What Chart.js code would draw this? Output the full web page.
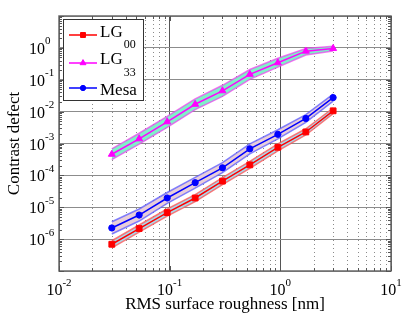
<!DOCTYPE html>
<html>
<head>
<meta charset="utf-8">
<script src="https://cdn.jsdelivr.net/npm/chart.js@4.4.1/dist/chart.umd.min.js"></script>
<style>
    html, body { margin: 0; padding: 0; background: #fff; }
</style>
</head>
<body>
<canvas id="myChart" width="415" height="331"></canvas>
<script>
// RMS surface roughness [nm]
const roughness = [0.03, 0.053, 0.095, 0.17, 0.3, 0.53, 0.95, 1.7, 3.0];

// contrast defect, centre line and shaded band for each mode
const lg00 = [6.9e-7, 2.15e-6, 6.8e-6, 1.95e-5, 6.6e-5, 2.14e-4, 7.6e-4, 2.3e-3, 1.06e-2];
const lg00Upper = [8.9e-7, 2.77e-6, 8.8e-6, 2.5e-5, 8.5e-5, 2.75e-4, 9.7e-4, 2.9e-3, 1.3e-2];
const lg00Lower = [5.35e-7, 1.67e-6, 5.3e-6, 1.5e-5, 5.1e-5, 1.66e-4, 5.9e-4, 1.85e-3, 8.6e-3];

const lg33 = [4.6e-4, 1.4e-3, 4.8e-3, 1.7e-2, 4.5e-2, 0.148, 0.34, 0.79, 0.96];
const lg33Upper = [6.8e-4, 2.1e-3, 7.1e-3, 2.5e-2, 6.7e-2, 0.21, 0.47, 0.95, 1.12];
const lg33Lower = [3.1e-4, 9.5e-4, 3.2e-3, 1.15e-2, 3.0e-2, 0.103, 0.25, 0.6, 0.8];

const mesa = [2.24e-6, 5.7e-6, 1.95e-5, 5.9e-5, 1.73e-4, 6.8e-4, 1.94e-3, 6.1e-3, 2.75e-2];
const mesaUpper = [3.5e-6, 8.8e-6, 2.9e-5, 8.7e-5, 2.5e-4, 9.7e-4, 2.7e-3, 8.1e-3, 3.55e-2];
const mesaLower = [1.45e-6, 3.7e-6, 1.32e-5, 4.0e-5, 1.21e-4, 4.75e-4, 1.4e-3, 4.6e-3, 2.13e-2];

// axes
const xMajorTicks = [0.01, 0.1, 1, 10];
const yMajorTicks = [1e-7, 1e-6, 1e-5, 1e-4, 1e-3, 1e-2, 1e-1, 1e0, 1e1];
const yLabelTicks = [1e-6, 1e-5, 1e-4, 1e-3, 1e-2, 1e-1, 1e0];

// legend
const legendNames = ['LG', 'LG', 'Mesa'];
const legendSubs = ['00', '33', ''];

const serif = "'Liberation Serif', 'DejaVu Serif', serif";

function pts(arr) {
    return roughness.map((r, i) => ({ x: r, y: arr[i] }));
}

// 2..9 times each decade between the given powers of ten
function minorTicks(majors) {
    let out = [];
    for (let i = 0; i < majors.length - 1; i++) {
        for (let k = 2; k <= 9; k++) out.push(majors[i] * k);
    }
    return out;
}

function bandSets(lower, upper, edge, fillCol) {
    return [
        { data: pts(lower), borderColor: edge, borderWidth: 1.5, pointRadius: 0, fill: false, order: 2 },
        { data: pts(upper), borderColor: edge, borderWidth: 1.5, pointRadius: 0, fill: '-1', backgroundColor: fillCol, order: 2 }
    ];
}

function mainSet(label, arr, col, style, radius) {
    return {
        label: label, data: pts(arr), borderColor: col, backgroundColor: col, order: 0,
        borderWidth: 1.5, pointStyle: style, pointRadius: radius, pointBorderWidth: 1, fill: false
    };
}

const datasets = [
    ...bandSets(lg00Lower, lg00Upper, 'rgba(255,80,80,0.75)', 'rgb(170,218,236)'),
    mainSet('LG00', lg00, '#ff0000', 'rect', 4.1),
    ...bandSets(lg33Lower, lg33Upper, 'rgba(240,60,240,0.7)', 'rgb(128,240,200)'),
    mainSet('LG33', lg33, '#ff00ff', 'triangle', 4.0),
    ...bandSets(mesaLower, mesaUpper, 'rgba(80,80,255,0.7)', 'rgb(232,206,218)'),
    mainSet('Mesa', mesa, '#0000ff', 'circle', 3.1)
];
const legendSets = [datasets[2], datasets[5], datasets[8]];

const decor = {
    id: 'decor',
    beforeDatasetsDraw(chart) {
        const { ctx, chartArea: a, scales: { x } } = chart;
        ctx.save();
        ctx.strokeStyle = '#8a8a8a';
        ctx.lineWidth = 1;
        ctx.setLineDash([1, 3]);
        minorTicks(xMajorTicks).forEach(v => {
            const px = Math.round(x.getPixelForValue(v)) + 0.5;
            ctx.beginPath();
            ctx.moveTo(px, a.top);
            ctx.lineTo(px, a.bottom);
            ctx.stroke();
        });
        ctx.restore();
    },
    afterDraw(chart) {
        const { ctx, chartArea: a, scales: { x, y } } = chart;
        ctx.save();

        // box and inward ticks
        ctx.strokeStyle = '#6a6a6a';
        ctx.lineWidth = 1.5;
        ctx.strokeRect(a.left, a.top, a.width, a.height);
        ctx.lineWidth = 1;
        ctx.strokeStyle = '#555';
        const tick = (x1, y1, x2, y2) => { ctx.beginPath(); ctx.moveTo(x1, y1); ctx.lineTo(x2, y2); ctx.stroke(); };
        xMajorTicks.concat(minorTicks(xMajorTicks)).forEach((v, i) => {
            const px = Math.round(x.getPixelForValue(v)) + 0.5;
            const len = i < xMajorTicks.length ? 5 : 3;
            tick(px, a.bottom, px, a.bottom - len);
            tick(px, a.top, px, a.top + len);
        });
        yMajorTicks.concat(minorTicks(yMajorTicks)).forEach((v, i) => {
            const py = Math.round(y.getPixelForValue(v)) + 0.5;
            const len = i < yMajorTicks.length ? 5 : 3;
            tick(a.left, py, a.left + len, py);
            tick(a.right, py, a.right - len, py);
        });

        // tick labels 10^n
        ctx.fillStyle = '#000';
        ctx.textBaseline = 'alphabetic';
        ctx.textAlign = 'left';
        const big = '16px ' + serif, small = '11px ' + serif;
        xMajorTicks.forEach(v => {
            const px = x.getPixelForValue(v);
            const e = String(Math.round(Math.log10(v)));
            ctx.font = big; const w1 = ctx.measureText('10').width;
            ctx.font = small; const w2 = ctx.measureText(e).width;
            const s = px - (w1 + w2) / 2;
            ctx.font = big; ctx.fillText('10', s, a.bottom + 24);
            ctx.font = small; ctx.fillText(e, s + w1, a.bottom + 15);
        });
        yLabelTicks.forEach(v => {
            const py = y.getPixelForValue(v);
            const e = String(Math.round(Math.log10(v)));
            ctx.font = big; const w1 = ctx.measureText('10').width;
            ctx.fillText('10', a.left - 30, py + 6);
            ctx.font = small; ctx.fillText(e, a.left - 30 + w1, py - 3.5);
        });

        // legend
        const lx = a.left + 4, ly = a.top + 3;
        ctx.fillStyle = '#fff';
        ctx.fillRect(lx, ly, 80, 81);
        ctx.strokeStyle = '#333';
        ctx.lineWidth = 1;
        ctx.strokeRect(lx + 0.5, ly + 0.5, 80, 81);
        const rowY = [16, 44, 69];
        const mainBase = [2, 1, 7];
        legendSets.forEach((ds, i) => {
            const cy = ly + rowY[i];
            ctx.strokeStyle = ds.borderColor;
            ctx.fillStyle = ds.backgroundColor;
            ctx.lineWidth = 1.5;
            tick(lx + 6, cy, lx + 34, cy);
            ctx.lineWidth = 1;
            Chart.helpers.drawPoint(ctx, { pointStyle: ds.pointStyle, radius: ds.pointRadius * 0.85, rotation: 0, borderWidth: 1 }, lx + 20, cy);
            ctx.fillStyle = '#000';
            ctx.font = '17px ' + serif;
            ctx.fillText(legendNames[i], lx + 37, cy + mainBase[i]);
            if (legendSubs[i]) {
                const w = ctx.measureText(legendNames[i]).width;
                ctx.font = '12px ' + serif;
                ctx.fillText(legendSubs[i], lx + 37 + w + 1, cy + 13);
            }
        });
        ctx.restore();
    }
};

const ctx = document.getElementById('myChart').getContext('2d');
const chart = new Chart(ctx, {
    type: 'line',
    data: { datasets: datasets },
    plugins: [decor],
    options: {
        responsive: false,
        animation: false,
        layout: { padding: { left: 0, right: 24, top: 16, bottom: 10 } },
        plugins: { legend: { display: false }, tooltip: { enabled: false } },
        elements: { line: { tension: 0 } },
        scales: {
            x: {
                type: 'logarithmic', min: 0.01, max: 10,
                afterBuildTicks: s => { s.ticks = xMajorTicks.map(v => ({ value: v })); },
                ticks: { display: false },
                grid: { color: '#555', drawTicks: false },
                border: { display: false },
                title: { display: true, text: 'RMS surface roughness [nm]', color: '#000',
                         font: { family: serif, size: 17 }, padding: { top: 23.6, bottom: 6 } }
            },
            y: {
                type: 'logarithmic', min: 1e-7, max: 10,
                afterBuildTicks: s => { s.ticks = yMajorTicks.map(v => ({ value: v })); },
                ticks: { display: false },
                grid: { color: '#8c8c8c', drawTicks: false },
                border: { display: false },
                title: { display: true, text: 'Contrast defect', color: '#000',
                         font: { family: serif, size: 17 }, padding: { top: 4, bottom: 34.6 } }
            }
        }
    }
});
</script>
</body>
</html>
